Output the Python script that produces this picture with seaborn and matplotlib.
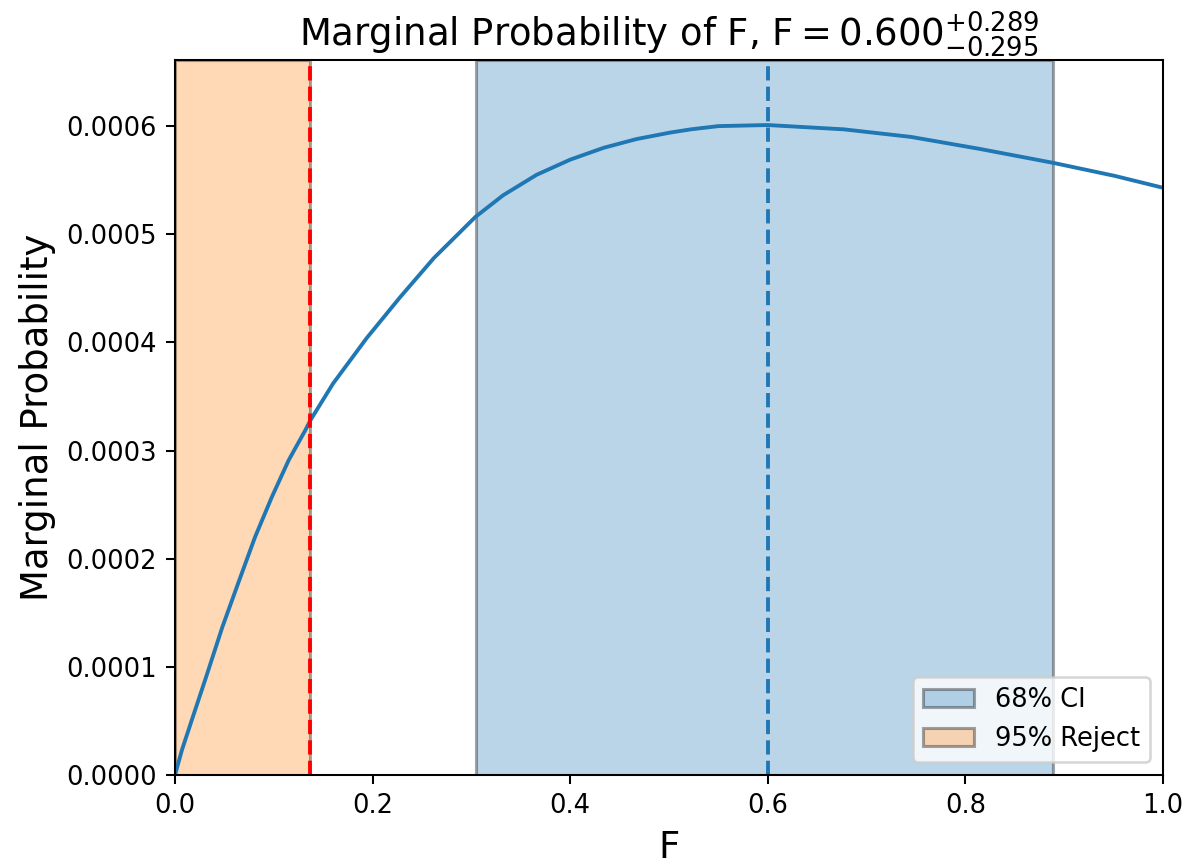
import seaborn as sns
import matplotlib.pyplot as plt
import pandas as pd

# Marginal probability curve
f_values = [0, 0.007, 0.017, 0.031, 0.048, 0.065, 0.081, 0.098, 0.115, 0.132,
            0.137, 0.160, 0.194, 0.228, 0.262, 0.304, 0.332, 0.366, 0.400,
            0.434, 0.467, 0.501, 0.522, 0.550, 0.600, 0.677, 0.745, 0.814,
            0.889, 0.951, 1.0]
prob_values = [0, 0.0000231, 0.0000508, 0.0000893, 0.000137, 0.000180, 0.000220,
               0.000257, 0.000291, 0.000319, 0.000328, 0.000362, 0.000404,
               0.000442, 0.000478, 0.000516, 0.000536, 0.000555, 0.000569,
               0.000580, 0.000588, 0.000594, 0.000597, 0.000600, 0.000601,
               0.000597, 0.000590, 0.000579, 0.000566, 0.000554, 0.000543]

best_f = 0.600
err_plus = 0.289
err_minus = 0.295
reject_95 = 0.137

df = pd.DataFrame({"F": f_values, "prob": prob_values})

dpi = 185
fig = plt.figure(figsize=(1188 / dpi, 865 / dpi), dpi=dpi)
ax = fig.add_axes([0.1473, 0.104, 0.8317, 0.8266])

ax.axvspan(best_f - err_minus, best_f + err_plus, facecolor=(0.122, 0.467, 0.706, 0.3),
           edgecolor=(0, 0, 0, 0.35), lw=1.2, label="68% CI")
ax.axvspan(0, reject_95, facecolor=(1.0, 0.498, 0.055, 0.3),
           edgecolor=(0, 0, 0, 0.35), lw=1.2, label="95% Reject")

sns.lineplot(data=df, x="F", y="prob", ax=ax, color="C0", lw=1.5)
ax.axvline(best_f, color="C0", ls="--", lw=1.5)
ax.axvline(reject_95, color="red", ls="--", lw=1.5)

ax.set_xlim(0, 1)
ax.set_ylim(0, max(prob_values) * 1.1)
ax.tick_params(labelsize=10)
ax.set_xlabel("F", fontsize=14.4)
ax.set_ylabel("Marginal Probability", fontsize=14.4)
ax.set_title(r"Marginal Probability of F, $\mathrm{F} = %.3f^{+%.3f}_{-%.3f}$"
             % (best_f, err_plus, err_minus), fontsize=14.4)
ax.legend(loc="lower right", fontsize=10)

fig.savefig("out.png", dpi=dpi)
